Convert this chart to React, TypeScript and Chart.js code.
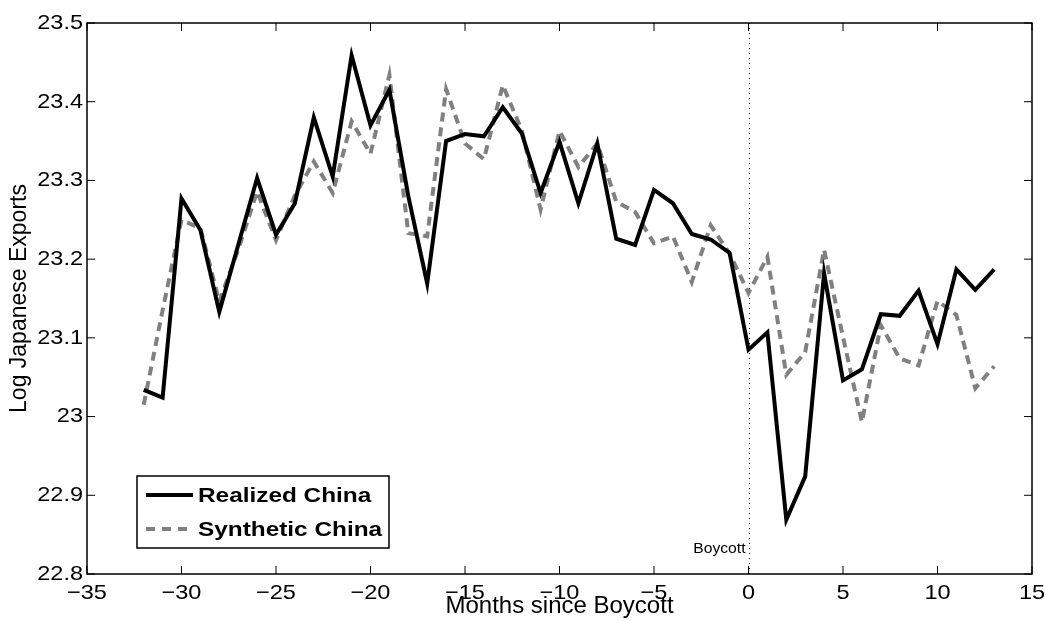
import React, { useEffect, useRef } from 'react';
import { Chart, registerables } from 'chart.js';

Chart.register(...registerables);

// Months relative to the boycott (month 0)
const months = [
  -32, -31, -30, -29, -28, -27, -26, -25, -24, -23, -22, -21, -20, -19, -18, -17,
  -16, -15, -14, -13, -12, -11, -10, -9, -8, -7, -6, -5, -4, -3, -2, -1,
  0, 1, 2, 3, 4, 5, 6, 7, 8, 9, 10, 11, 12, 13,
];

// Log Japanese exports to China, observed
const realizedChina = [
  23.034, 23.024, 23.277, 23.237, 23.133, 23.218, 23.303, 23.231, 23.271, 23.38, 23.305,
  23.459, 23.37, 23.415, 23.28, 23.169, 23.35, 23.359, 23.356, 23.393, 23.36, 23.284,
  23.349, 23.271, 23.347, 23.226, 23.218, 23.288, 23.271, 23.232, 23.225, 23.208,
  23.085, 23.107, 22.869, 22.924, 23.182, 23.046, 23.06, 23.13, 23.128, 23.16, 23.092,
  23.187, 23.161, 23.187,
];

// Log Japanese exports to the synthetic control
const syntheticChina = [
  23.015, 23.135, 23.25, 23.239, 23.146, 23.212, 23.286, 23.224, 23.281, 23.324, 23.284,
  23.375, 23.334, 23.434, 23.233, 23.229, 23.416, 23.347, 23.327, 23.421, 23.364, 23.263,
  23.363, 23.317, 23.347, 23.273, 23.26, 23.22, 23.229, 23.171, 23.243, 23.207,
  23.157, 23.203, 23.053, 23.082, 23.212, 23.101, 22.993, 23.116, 23.074, 23.065, 23.147,
  23.129, 23.036, 23.064,
];

const seriesNames = ['Realized China', 'Synthetic China'];
const xTickValues = [-35, -30, -25, -20, -15, -10, -5, 0, 5, 10, 15];
const yTickValues = [22.8, 22.9, 23.0, 23.1, 23.2, 23.3, 23.4, 23.5];
const boycottMonth = 0;
const boycottLabel = 'Boycott';
const xTitle = 'Months since Boycott';
const yTitle = 'Log Japanese Exports';

const FONT = '"Liberation Sans", Arial, Helvetica, sans-serif';
const GRAY = '#808080';
// glyphs in this figure are set slightly wide
const TEXT_STRETCH = 1.12;

const formatX = (v: number) => (v < 0 ? '\u2212' + Math.abs(v) : String(v));
const formatY = (v: number) => String(Number(v.toFixed(1)));

function wideText(ctx: CanvasRenderingContext2D, text: string, x: number, y: number) {
  ctx.save();
  ctx.translate(x, y);
  ctx.scale(TEXT_STRETCH, 1);
  ctx.fillText(text, 0, 0);
  ctx.restore();
}

// Boxed axes with inward tick marks on all four sides, tick labels, the boycott marker and the legend
const framePlugin = {
  id: 'matlabFrame',
  beforeDatasetsDraw(chart: any) {
    const { ctx, chartArea, scales } = chart;
    const x0 = Math.round(scales.x.getPixelForValue(boycottMonth)) + 0.5;
    ctx.save();
    ctx.strokeStyle = '#000';
    ctx.lineWidth = 1;
    ctx.setLineDash([1, 4]);
    ctx.beginPath();
    ctx.moveTo(x0, chartArea.bottom);
    ctx.lineTo(x0, chartArea.top);
    ctx.stroke();
    ctx.setLineDash([]);
    ctx.fillStyle = '#000';
    ctx.font = `14px ${FONT}`;
    ctx.textAlign = 'right';
    ctx.textBaseline = 'alphabetic';
    wideText(ctx, boycottLabel, x0 - 4, chartArea.bottom - 21);
    ctx.restore();
  },
  afterDraw(chart: any) {
    const { ctx, chartArea, scales } = chart;
    const { left, right, top, bottom } = chartArea;
    const tick = 8;
    ctx.save();
    ctx.strokeStyle = '#000';
    ctx.lineWidth = 1.5;
    ctx.strokeRect(left, top, right - left, bottom - top);
    ctx.beginPath();
    xTickValues.forEach((v) => {
      const px = scales.x.getPixelForValue(v);
      ctx.moveTo(px, bottom);
      ctx.lineTo(px, bottom - tick);
      ctx.moveTo(px, top);
      ctx.lineTo(px, top + tick);
    });
    yTickValues.forEach((v) => {
      const py = scales.y.getPixelForValue(v);
      ctx.moveTo(left, py);
      ctx.lineTo(left + tick, py);
      ctx.moveTo(right, py);
      ctx.lineTo(right - tick, py);
    });
    ctx.lineWidth = 1;
    ctx.stroke();

    // tick labels
    ctx.fillStyle = '#000';
    ctx.font = `21px ${FONT}`;
    ctx.textBaseline = 'middle';
    ctx.textAlign = 'center';
    xTickValues.forEach((v) => {
      wideText(ctx, formatX(v), scales.x.getPixelForValue(v), bottom + 19);
    });
    ctx.textAlign = 'right';
    yTickValues.forEach((v) => {
      wideText(ctx, formatY(v), left - 4, scales.y.getPixelForValue(v));
    });

    // legend box in the lower-left corner
    const bx = left + 50;
    const by = bottom - 98;
    const bw = 252;
    const bh = 72;
    ctx.fillStyle = '#fff';
    ctx.fillRect(bx, by, bw, bh);
    ctx.lineWidth = 1.5;
    ctx.strokeStyle = '#000';
    ctx.strokeRect(bx, by, bw, bh);
    const rows = [by + 19, by + 53];
    const styles = [
      { color: '#000', dash: [] as number[] },
      { color: GRAY, dash: [9, 7] },
    ];
    rows.forEach((ry, i) => {
      ctx.strokeStyle = styles[i].color;
      ctx.lineWidth = 4;
      ctx.setLineDash(styles[i].dash);
      ctx.beginPath();
      ctx.moveTo(bx + 9, ry);
      ctx.lineTo(bx + 56, ry);
      ctx.stroke();
      ctx.setLineDash([]);
      ctx.fillStyle = '#000';
      ctx.font = `bold 21px ${FONT}`;
      ctx.textAlign = 'left';
      ctx.textBaseline = 'middle';
      ctx.save();
      ctx.translate(bx + 61, ry + 1);
      ctx.scale(1.16, 1);
      ctx.fillText(seriesNames[i], 0, 0);
      ctx.restore();
    });
    ctx.restore();
  },
};

export default function App() {
  const canvasRef = useRef<HTMLCanvasElement | null>(null);

  useEffect(() => {
    if (!canvasRef.current) return;
    const chart = new Chart(canvasRef.current, {
      type: 'line',
      data: {
        datasets: [
          {
            label: seriesNames[0],
            data: months.map((m, i) => ({ x: m, y: realizedChina[i] })),
            borderColor: '#000',
            borderWidth: 4,
            borderJoinStyle: 'miter',
            pointRadius: 0,
            tension: 0,
            fill: false,
          },
          {
            label: seriesNames[1],
            data: months.map((m, i) => ({ x: m, y: syntheticChina[i] })),
            borderColor: GRAY,
            borderWidth: 4,
            borderDash: [9, 6],
            borderJoinStyle: 'miter',
            pointRadius: 0,
            tension: 0,
            fill: false,
          },
        ],
      },
      options: {
        responsive: false,
        animation: false,
        devicePixelRatio: 1,
        layout: { padding: { left: 0, right: 13, top: 23, bottom: 0 } },
        plugins: {
          legend: { display: false },
          tooltip: { enabled: false },
        },
        scales: {
          x: {
            type: 'linear',
            min: -35,
            max: 15,
            afterBuildTicks: (s: any) => {
              s.ticks = xTickValues.map((v) => ({ value: v }));
            },
            afterFit: (s: any) => {
              s.height = 47;
            },
            grid: { display: false, drawTicks: false },
            border: { display: false },
            ticks: { display: false },
            title: {
              display: true,
              text: xTitle,
              color: '#000',
              font: { family: FONT, size: 24 },
              padding: 0,
            },
          },
          y: {
            type: 'linear',
            min: 22.8,
            max: 23.5,
            afterBuildTicks: (s: any) => {
              s.ticks = yTickValues.map((v) => ({ value: v }));
            },
            afterFit: (s: any) => {
              s.width = 87;
            },
            grid: { display: false, drawTicks: false },
            border: { display: false },
            ticks: { display: false },
            title: {
              display: true,
              text: yTitle,
              color: '#000',
              font: { family: FONT, size: 23 },
              padding: { top: 6, bottom: 0 },
            },
          },
        },
      },
      plugins: [framePlugin],
    });
    return () => chart.destroy();
  }, []);

  return (
    <div style={{ position: 'fixed', left: 0, top: 0, width: 1045, height: 621, background: '#fff' }}>
      <canvas ref={canvasRef} width={1045} height={621} style={{ display: 'block' }} />
    </div>
  );
}
